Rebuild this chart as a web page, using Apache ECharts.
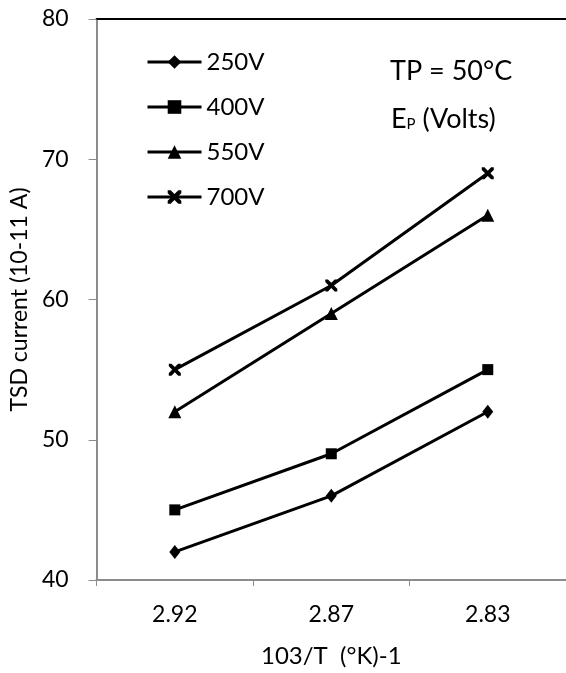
<!DOCTYPE html>
<html>
<head>
<meta charset="utf-8">
<script src="https://cdn.jsdelivr.net/npm/echarts@6/dist/echarts.min.js"></script>
<style>
html,body{margin:0;padding:0;background:#fff;}
#chart{width:566px;height:673px;}
</style>
</head>
<body>
<div id="chart"></div>
<script>
var categories = ['2.92', '2.87', '2.83'];
var seriesNames = ['250V', '400V', '550V', '700V'];
var v250 = [42, 46, 52];
var v400 = [45, 49, 55];
var v550 = [52, 59, 66];
var v700 = [55, 61, 69];
var yTicks = [40, 50, 60, 70, 80];

var FONT = 'Lato';
var crossPath = 'path://M0,0 L2.2,0 L5,2.8 L7.8,0 L10,0 L10,2.2 L7.2,5 L10,7.8 L10,10 L7.8,10 L5,7.2 L2.2,10 L0,10 L0,7.8 L2.8,5 L0,2.2 Z';
var symbols = ['diamond', 'rect', 'triangle', crossPath];
var sizes = [[11, 14], 11, 13, 12];
var values = [v250, v400, v550, v700];

var chart = echarts.init(document.getElementById('chart'));
var series = seriesNames.map(function (n, i) {
  return {
    name: n, type: 'line', data: values[i],
    symbol: symbols[i], symbolSize: sizes[i],
    lineStyle: { color: '#000', width: 3 },
    itemStyle: { color: '#000' },
    animation: false
  };
});

chart.setOption({
  animation: false,
  textStyle: { fontFamily: FONT },
  grid: { left: 95, top: 19, width: 474, height: 564 },
  legend: {
    orient: 'vertical', left: 141, top: 45,
    itemWidth: 54, itemHeight: 17, itemGap: 21,
    lineStyle: { width: 3 },
    textStyle: { fontSize: 24, color: '#000', fontFamily: FONT },
    data: seriesNames
  },
  xAxis: [{
    type: 'category', data: categories, boundaryGap: true,
    axisLine: { lineStyle: { color: '#8c8c8c', width: 2 } },
    axisTick: { show: true, length: 6, lineStyle: { color: '#8c8c8c', width: 1 } },
    axisLabel: { fontSize: 23, color: '#000', margin: 23, fontFamily: FONT },
    name: '103/T  (°K)-1', nameLocation: 'middle', nameGap: 64,
    nameTextStyle: { fontSize: 24, color: '#000', fontFamily: FONT }
  }, {
    type: 'category', data: categories, position: 'top',
    axisLine: { show: true, lineStyle: { color: '#000', width: 2 } },
    axisTick: { show: false }, axisLabel: { show: false }
  }],
  yAxis: {
    type: 'value', min: 40, max: 80, interval: 10,
    axisLine: { show: true, lineStyle: { color: '#8c8c8c', width: 2 } },
    axisTick: { show: true, length: 8, lineStyle: { color: '#8c8c8c', width: 1 } },
    splitLine: { show: false },
    axisLabel: { fontSize: 23, color: '#000', margin: 28, fontFamily: FONT,
      formatter: function (v) { return yTicks.indexOf(v) >= 0 ? String(v) : ''; } },
    name: 'TSD current (10-11 A)', nameLocation: 'middle', nameRotate: 90, nameGap: 59,
    nameTextStyle: { fontSize: 23, color: '#000', fontFamily: FONT }
  },
  graphic: [{
    type: 'text', left: 390, top: 58,
    style: { text: 'TP = 50°C', fontSize: 27, fill: '#000', fontFamily: FONT }
  }, {
    type: 'text', left: 391, top: 106,
    style: { text: '{e|E}{p|P}{e| (Volts)}', fill: '#000',
      rich: { e: { fontSize: 27, fontFamily: FONT, fill: '#000' }, p: { fontSize: 15, fontFamily: FONT, fill: '#000', padding: [10, 0, 0, 0] } } }
  }],
  series: series
});
</script>
</body>
</html>
